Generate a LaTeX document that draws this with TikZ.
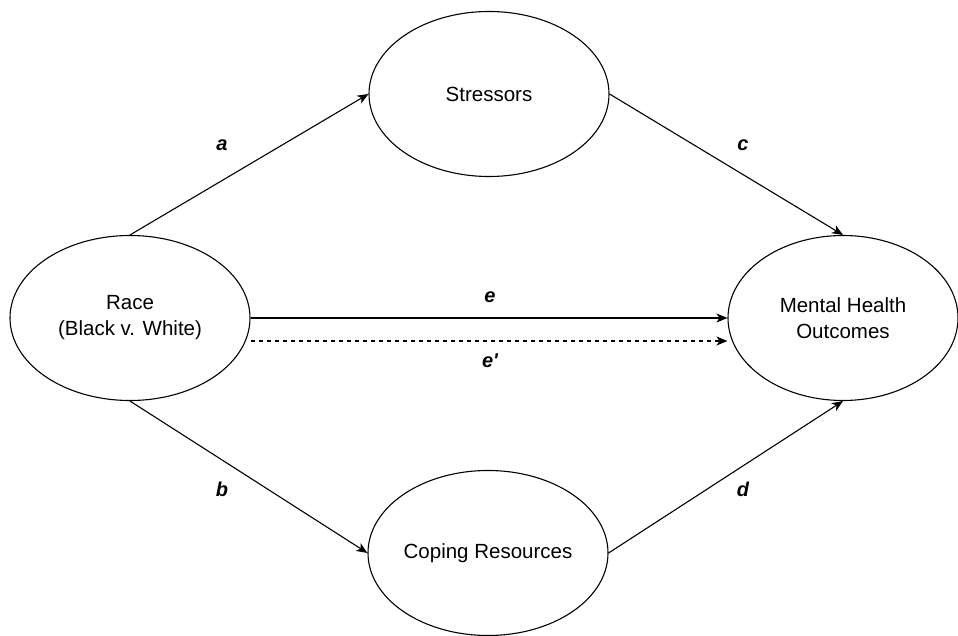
\documentclass[tikz,border=0pt]{standalone}
\usepackage{fontspec}
\setmainfont{Liberation Sans}
\usetikzlibrary{arrows.meta,shapes.geometric}
\tikzset{
  var/.style={draw,ellipse,line width=1.1pt,minimum width=240pt,minimum height=165pt,
              inner sep=0pt,align=center,font=\fontsize{20.5}{26}\selectfont},
  link/.style={-{Stealth[length=11pt,width=9pt,inset=3pt]},line width=1.1pt},
  linkd/.style={link,dash pattern=on 4pt off 4pt},
  lbl/.style={font=\fontsize{20}{23}\selectfont\bfseries\itshape,inner sep=1pt},
}

\begin{document}
\begin{tikzpicture}[x=1pt,y=-1pt]
  \useasboundingbox (0,0) rectangle (958,636);

  \node[var] (race)   at (130,318) {Race\\(Black v. White)};
  \node[var] (stress) at (489,94)  {Stressors};
  \node[var] (coping) at (488,553) {Coping Resources};
  \node[var,minimum width=230pt] (mh) at (843,318) {Mental Health\\Outcomes};

  \draw[link] (race.north) -- (stress.west);
  \draw[link] (stress.east) -- (mh.north);
  \draw[link] (race.south) -- (coping.west);
  \draw[link] (coping.east) -- (mh.south);
  \draw[link]  (race.east) -- (mh.west);
  \draw[linkd] ([yshift=-23pt]race.east) -- ([yshift=-23pt]mh.west);

  \node[lbl] (la)  at (222,145) {a};
  \node[lbl] (lc)  at (743,145) {c};
  \node[lbl] (le)  at (490,297) {e};
  \node[lbl] (lep) at (490,361) {e\textquotesingle};
  \node[lbl] (lb)  at (222,489) {b};
  \node[lbl] (ld)  at (743,489) {d};
\end{tikzpicture}
\end{document}
